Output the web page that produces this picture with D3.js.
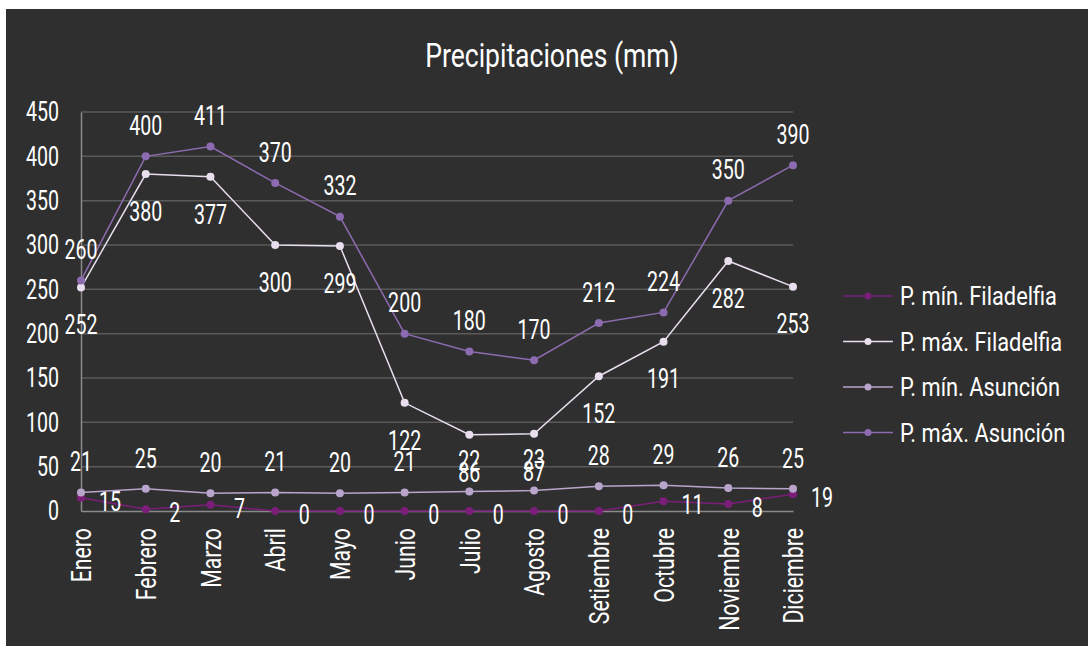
<!doctype html>
<html>
<head>
  <meta charset="utf-8">
  <script src="https://d3js.org/d3.v7.min.js"></script>
  <style>
    body { margin: 0; background: #fff; }
    svg text {
      font-family: Roboto, "DejaVu Sans", sans-serif;
      fill: #fff;
    }
  </style>
</head>
<body>
<script>
  var months = ["Enero", "Febrero", "Marzo", "Abril", "Mayo", "Junio", "Julio",
    "Agosto", "Setiembre", "Octubre", "Noviembre", "Diciembre"];
  var minFiladelfia = [15, 2, 7, 0, 0, 0, 0, 0, 0, 11, 8, 19];
  var maxFiladelfia = [252, 380, 377, 300, 299, 122, 86, 87, 152, 191, 282, 253];
  var minAsuncion = [21, 25, 20, 21, 20, 21, 22, 23, 28, 29, 26, 25];
  var maxAsuncion = [260, 400, 411, 370, 332, 200, 180, 170, 212, 224, 350, 390];
  var yTicks = [0, 50, 100, 150, 200, 250, 300, 350, 400, 450];

  // label offsets: dx, dy relative to the point
  var series = [
    { name: "P. mín. Filadelfia", values: minFiladelfia, color: "#7b1e7a", dx: 29, dy: 3 },
    { name: "P. máx. Filadelfia", values: maxFiladelfia, color: "#e8deee", dx: 0, dy: 37 },
    { name: "P. mín. Asunción", values: minAsuncion, color: "#b9a5cc", dx: 0, dy: -31 },
    { name: "P. máx. Asunción", values: maxAsuncion, color: "#8c6bb1", dx: 0, dy: -31 }
  ];

  // horizontal squeeze to fake a condensed face
  function squeeze(px, py, sx) {
    return "translate(" + px + "," + py + ") scale(" + (sx || 0.7) + ",1)";
  }

  var W = 1088, H = 646;
  var svg = d3.select("body").append("svg")
    .attr("width", W).attr("height", H)
    .style("display", "block");

  svg.append("rect")
    .attr("x", 6).attr("y", 9)
    .attr("width", W - 6).attr("height", H - 9)
    .attr("fill", "#2f2f2f");

  var x = d3.scalePoint().domain(months).range([81, 793]);
  var y = d3.scaleLinear().domain([0, 450]).range([511, 112]);

  // title
  svg.append("text")
    .attr("transform", squeeze(552, 67, 0.78))
    .attr("text-anchor", "middle")
    .style("font-size", "34px")
    .text("Precipitaciones (mm)");

  // gridlines
  svg.append("g").selectAll("line")
    .data(yTicks.slice(1))
    .join("line")
    .attr("x1", 81).attr("x2", 793)
    .attr("y1", d => y(d)).attr("y2", d => y(d))
    .attr("stroke", "#5a5a5a")
    .attr("stroke-width", 1.5);

  // y axis
  var yAxis = svg.append("g")
    .attr("transform", "translate(81,0)")
    .call(d3.axisLeft(y).tickValues(yTicks).tickSize(0));
  yAxis.select(".domain").attr("stroke", "#8a8a8a").attr("stroke-width", 1.5);
  yAxis.selectAll(".tick text")
    .attr("fill", "#fff")
    .attr("x", 0)
    .attr("transform", squeeze(-22, 0))
    .style("font-size", "28px");

  // x axis
  var xAxis = svg.append("g")
    .attr("transform", "translate(0," + y(0) + ")")
    .call(d3.axisBottom(x).tickSize(0).tickPadding(0));
  xAxis.select(".domain").attr("stroke", "#8a8a8a").attr("stroke-width", 1.5);
  xAxis.selectAll(".tick text")
    .attr("fill", "#fff")
    .style("font-size", "28px")
    .attr("text-anchor", "end")
    .attr("x", 0)
    .attr("y", 0)
    .attr("dy", "0.35em")
    .attr("transform", "translate(0,17) rotate(-90) scale(0.76,1)");

  var line = d3.line()
    .x((d, i) => x(months[i]))
    .y(d => y(d));

  var g = svg.append("g").selectAll("g")
    .data(series)
    .join("g");

  g.append("path")
    .attr("d", d => line(d.values))
    .attr("fill", "none")
    .attr("stroke", d => d.color)
    .attr("stroke-width", 1.5);

  g.selectAll("circle")
    .data(d => d.values.map((v, i) => ({ v: v, i: i, s: d })))
    .join("circle")
    .attr("cx", d => x(months[d.i]))
    .attr("cy", d => y(d.v))
    .attr("r", 4)
    .attr("fill", d => d.s.color);

  g.selectAll("text.lbl")
    .data(d => d.values.map((v, i) => ({ v: v, i: i, s: d })))
    .join("text")
    .attr("class", "lbl")
    .attr("transform", d => squeeze(x(months[d.i]) + d.s.dx, y(d.v) + d.s.dy))
    .attr("dy", "0.35em")
    .attr("text-anchor", "middle")
    .style("font-size", "28px")
    .text(d => d.v);

  // legend
  var legend = svg.append("g").selectAll("g")
    .data(series)
    .join("g")
    .attr("transform", (d, i) => "translate(843," + (296 + i * 45.5) + ")");

  legend.append("line")
    .attr("x1", 0).attr("x2", 50)
    .attr("stroke", d => d.color)
    .attr("stroke-width", 1.5);
  legend.append("circle")
    .attr("cx", 25).attr("r", 3.5)
    .attr("fill", d => d.color);
  legend.append("text")
    .attr("transform", squeeze(57, 0, 0.84))
    .attr("dy", "0.35em")
    .style("font-size", "26px")
    .text(d => d.name);
</script>
</body>
</html>
